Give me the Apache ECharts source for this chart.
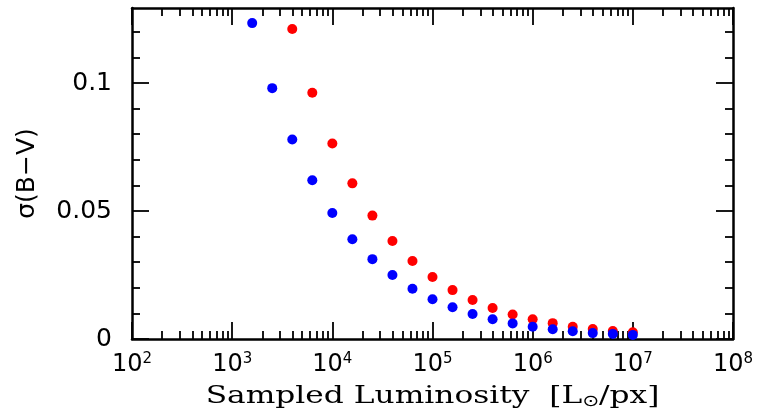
<!DOCTYPE html>
<html>
<head>
<meta charset="utf-8">
<script src="https://cdn.jsdelivr.net/npm/echarts@6/dist/echarts.min.js"></script>
<style>
  html, body { margin: 0; padding: 0; background: #fff; }
  #chart { width: 758px; height: 419px; }
</style>
</head>
<body>
<div id="chart"></div>
<script>
// ---- data ----
const blueX = [1585, 2512, 3981, 6310, 10000, 15850, 25120, 39810, 63100, 100000,
               158500, 251200, 398100, 631000, 1000000, 1585000, 2512000, 3981000, 6310000, 10000000];
const blueY = [0.1234, 0.0980, 0.0779, 0.0620, 0.0492, 0.0390, 0.0312, 0.0250, 0.0196, 0.0155,
               0.0124, 0.0098, 0.0077, 0.0061, 0.0048, 0.0038, 0.0030, 0.0023, 0.0020, 0.0016];
const redX = [3981, 6310, 10000, 15850, 25120, 39810, 63100, 100000, 158500, 251200,
              398100, 631000, 1000000, 1585000, 2512000, 3981000, 6310000, 10000000];
const redY = [0.1211, 0.0962, 0.0764, 0.0608, 0.0482, 0.0383, 0.0305, 0.0242, 0.0191, 0.0152,
              0.0121, 0.0096, 0.0077, 0.0062, 0.0048, 0.0039, 0.0031, 0.0026];

const xTickExponents = [2, 3, 4, 5, 6, 7, 8];
const yTickValues = [0, 0.05, 0.1];
const yTickLabels = ['0', '0.05', '0.1'];
const xTitle = 'Sampled Luminosity';
const yTitle = 'σ(B−V)';

// ---- build ----
const xMajor = xTickExponents.map(e => Math.pow(10, e));
const xMinor = [];
for (let i = 0; i < xTickExponents.length - 1; i++) {
  for (let m = 2; m <= 9; m++) xMinor.push(m * Math.pow(10, xTickExponents[i]));
}
const pair = (xs, ys) => xs.map((x, i) => [x, ys[i]]);

const black = '#000';
const xMin = xMajor[0], xMax = xMajor[xMajor.length - 1];

function xAxisDef(pos, major, labels) {
  return {
    type: 'log', logBase: 10, min: xMin, max: xMax, position: pos,
    axisLine: { show: major, lineStyle: { color: black, width: 2.5 } },
    axisTick: { show: true, inside: true, length: major ? 17 : 8,
                customValues: major ? xMajor : xMinor,
                lineStyle: { color: black, width: 1.8 } },
    axisLabel: labels ? {
      show: true, customValues: xMajor, margin: 13,
      formatter: v => '{b|10}{s|' + Math.round(Math.log10(v)) + '}',
      rich: {
        b: { fontFamily: 'DejaVu Sans', fontSize: 24, lineHeight: 26, color: black },
        s: { fontFamily: 'DejaVu Sans', fontSize: 15, lineHeight: 20, color: black, verticalAlign: 'top' }
      }
    } : { show: false },
    splitLine: { show: false }, minorSplitLine: { show: false }
  };
}

function yAxisDef(pos, labels) {
  const ax = {
    type: 'value', min: 0, max: 0.1293, interval: 0.05, position: pos,
    axisLine: { show: true, lineStyle: { color: black, width: 2.5 } },
    axisTick: { show: true, inside: true, length: 17, customValues: yTickValues,
                lineStyle: { color: black, width: 1.8 } },
    minorTick: { show: true, splitNumber: 5, length: 8, lineStyle: { color: black, width: 1.8 } },
    axisLabel: labels ? {
      show: true, customValues: yTickValues, margin: 20,
      fontFamily: 'DejaVu Sans', fontSize: 25, color: black,
      formatter: v => { const i = yTickValues.findIndex(t => Math.abs(t - v) < 1e-9); return i >= 0 ? yTickLabels[i] : ''; }
    } : { show: false },
    splitLine: { show: false }, minorSplitLine: { show: false }
  };
  if (labels) {
    ax.name = yTitle;
    ax.nameLocation = 'middle';
    ax.nameGap = 92;
    ax.nameRotate = 90;
    ax.nameTextStyle = { fontFamily: 'DejaVu Sans', fontSize: 25, color: black };
  }
  return ax;
}

const chart = echarts.init(document.getElementById('chart'), null, { renderer: 'canvas' });
chart.setOption({
  animation: false,
  backgroundColor: '#fff',
  grid: { left: 132, right: 25, top: 8, bottom: 80, containLabel: false },
  xAxis: [
    xAxisDef('bottom', true, true),
    xAxisDef('bottom', false, false),
    xAxisDef('top', true, false),
    xAxisDef('top', false, false)
  ],
  yAxis: [yAxisDef('left', true), yAxisDef('right', false)],
  graphic: [{
    type: 'text', x: 432.5, y: 396, scaleX: 1.25, silent: true,
    style: {
      text: '{a|' + xTitle + '  [L}{o|⊙}{a|/px]}',
      align: 'center', verticalAlign: 'middle',
      rich: {
        a: { fontFamily: 'DejaVu Serif', fontSize: 25, lineHeight: 28, fill: black },
        o: { fontFamily: 'DejaVu Sans', fontSize: 16, lineHeight: 8, fill: black, verticalAlign: 'bottom' }
      }
    }
  }],
  series: [
    { type: 'scatter', xAxisIndex: 0, yAxisIndex: 0, data: pair(redX, redY),
      symbol: 'circle', symbolSize: 10, itemStyle: { color: '#ff0000', opacity: 1 } },
    { type: 'scatter', xAxisIndex: 0, yAxisIndex: 0, data: pair(blueX, blueY),
      symbol: 'circle', symbolSize: 10, itemStyle: { color: '#0000ff', opacity: 1 } }
  ]
});
</script>
</body>
</html>
